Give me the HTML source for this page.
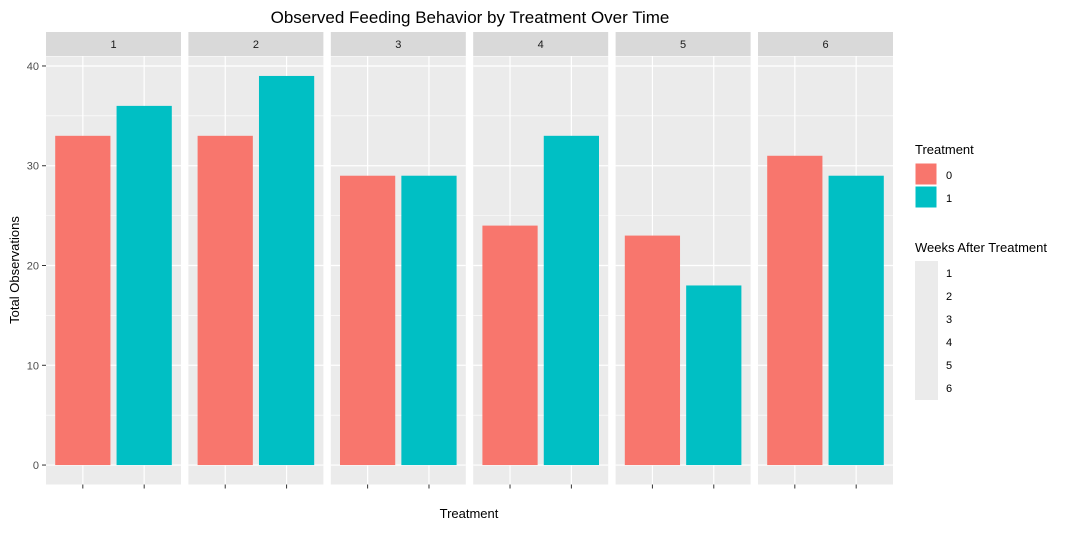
<!DOCTYPE html>
<html><head><meta charset="utf-8"><style>
body{margin:0;background:#fff;font-family:"Liberation Sans",Arial,sans-serif}
svg text{font-family:"Liberation Sans",Arial,sans-serif}
</style></head><body>
<svg id="c" width="1080" height="529" viewBox="0 0 1080 529"></svg>
<script>
const weeks=["1","2","3","4","5","6"];
const treatments=["0","1"];
const values0=[33,33,29,24,23,31];
const values1=[36,39,29,33,18,29];
const yTicks=[0,10,20,30,40];
const colors=["#F8766D","#00BFC4"];
const svg=document.getElementById('c');
const NS="http://www.w3.org/2000/svg";
function mk(t,a,p){const e=document.createElementNS(NS,t);for(const k in a)e.setAttribute(k,a[k]);(p||svg).appendChild(e);return e;}
const plotTop=56.5,plotBot=484.5,left0=46,pw=135,gap=7.4;
const all=values0.concat(values1);const ymax=Math.max(...all);
const lo=-ymax*0.05,hi=ymax*1.05;
const y=v=>plotBot-(v-lo)/(hi-lo)*(plotBot-plotTop);
const xb=(i)=>(i+1-0.4)/2.2*pw;
const t=mk('text',{x:470,y:23,'font-size':17,'text-anchor':'middle',fill:'#000'});t.textContent="Observed Feeding Behavior by Treatment Over Time";


weeks.forEach((w,p)=>{
 const L=left0+p*(pw+gap);
 const g=mk('g',{});
 
 
 mk('rect',{x:L,y:32,width:pw,height:24,fill:'#D9D9D9'},g);
 const st=mk('text',{x:L+pw/2,y:48,'font-size':11,'text-anchor':'middle',fill:'#1a1a1a'},g);st.textContent=w;
 mk('rect',{x:L,y:plotTop,width:pw,height:plotBot-plotTop,fill:'#EBEBEB'},g);
 for(let v=5;v<hi;v+=10)mk('line',{x1:L,x2:L+pw,y1:y(v),y2:y(v),stroke:'#fff','stroke-width':0.6},g);
 yTicks.forEach(v=>mk('line',{x1:L,x2:L+pw,y1:y(v),y2:y(v),stroke:'#fff','stroke-width':1.2},g));
 treatments.forEach((tr,i)=>{mk('line',{x1:L+xb(i),x2:L+xb(i),y1:plotTop,y2:plotBot,stroke:'#fff','stroke-width':1.2},g);
  mk('line',{x1:L+xb(i),x2:L+xb(i),y1:plotBot,y2:plotBot+4,stroke:'#333'},g);});
 [values0[p],values1[p]].forEach((v,i)=>{
  const b=mk('rect',{x:L+xb(i)-0.45/2.2*pw,y:y(v),width:0.9/2.2*pw,height:y(0)-y(v),fill:colors[i]},g);
  
  
 });
});
yTicks.forEach(v=>{mk('line',{x1:42,x2:46,y1:y(v),y2:y(v),stroke:'#333'});
 const tx=mk('text',{x:39,y:y(v)+4,'font-size':11,'text-anchor':'end',fill:'#4d4d4d'});tx.textContent=v;
 
 });
const yl=mk('text',{x:0,y:0,'font-size':13,'text-anchor':'middle',transform:'translate(19,270) rotate(-90)'});yl.textContent="Total Observations";


const xl=mk('text',{x:469,y:518,'font-size':13,'text-anchor':'middle'});xl.textContent="Treatment";


const lg=mk('g',{});


let a=mk('text',{x:915,y:154,'font-size':13},lg);a.textContent="Treatment";
treatments.forEach((tr,i)=>{const r=mk('rect',{x:915,y:163+i*23,width:22,height:22,fill:colors[i],stroke:'#fff'},lg);
 
 
 const tx=mk('text',{x:946,y:179+i*23,'font-size':11},lg);tx.textContent=tr;});
a=mk('text',{x:915,y:252,'font-size':13},lg);a.textContent="Weeks After Treatment";
mk('rect',{x:915,y:261,width:23,height:139,fill:'#EBEBEB'},lg);
weeks.forEach((w,i)=>{const tx=mk('text',{x:946,y:277+i*23,'font-size':11},lg);tx.textContent=w;});
</script>
</body></html>
